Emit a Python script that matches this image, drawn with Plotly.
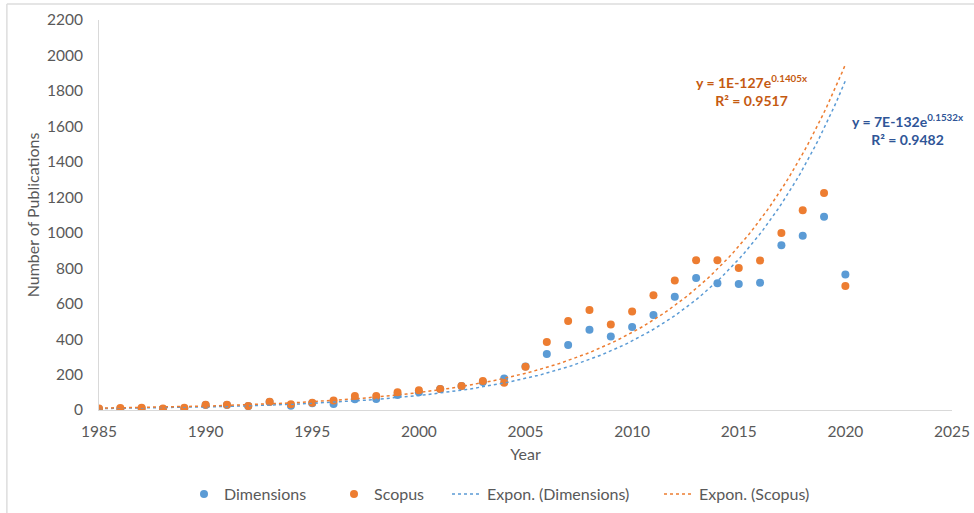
import numpy as np
import plotly.graph_objects as go

years = list(range(1985, 2021))
dimensions = [5, 7, 9, 5, 9, 28, 28, 22, 45, 24, 38, 34, 60, 62, 85, 100, 118, 135, 158, 178,
              245, 316, 367, 453, 414, 468, 536, 639, 745, 715, 711, 718, 929, 983, 1090, 765]
scopus = [9, 11, 12, 8, 12, 30, 30, 23, 47, 32, 41, 53, 79, 79, 100, 112, 118, 135, 163, 154,
          244, 384, 502, 564, 483, 556, 647, 731, 845, 845, 801, 843, 998, 1127, 1224, 700]

BLUE = "#5B9BD5"
ORANGE = "#ED7D31"
FONT = "Lato"
GREY = "#595959"

def expfit(x, y):
    # Excel-style exponential trendline: least squares on ln(y)
    x = np.array(x, float); y = np.array(y, float)
    b, ln_a = np.polyfit(x, np.log(y), 1)
    xs = np.linspace(x.min(), x.max(), 200)
    return xs, np.exp(ln_a + b * xs)

xd, yd = expfit(years, dimensions)
xs, ys = expfit(years, scopus)

fig = go.Figure()
fig.add_trace(go.Scatter(x=years, y=dimensions, mode="markers", name="Dimensions",
                         marker=dict(color=BLUE, size=8), legend="legend"))
fig.add_trace(go.Scatter(x=years, y=scopus, mode="markers", name="Scopus",
                         marker=dict(color=ORANGE, size=8), legend="legend2"))
fig.add_trace(go.Scatter(x=xd, y=yd, mode="lines", name="Expon. (Dimensions)",
                         line=dict(color=BLUE, width=1.5, dash="dot"), legend="legend3"))
fig.add_trace(go.Scatter(x=xs, y=ys, mode="lines", name="Expon. (Scopus)",
                         line=dict(color=ORANGE, width=1.5, dash="dot"), legend="legend4"))

fig.add_annotation(x=2015.6, y=1805, xref="x", yref="y", showarrow=False,
                   text="<b>y = 1E-127e<sup>0.1405x</sup></b><br><b>R² = 0.9517</b>",
                   font=dict(family=FONT, size=14, color="#C55A11"), align="center")
fig.add_annotation(x=1.0164, xanchor="right", y=1580, xref="paper", yref="y", showarrow=False,
                   text="<b>y = 7E-132e<sup>0.1532x</sup></b><br><b>R² = 0.9482</b>",
                   font=dict(family=FONT, size=14, color="#2F5597"), align="center")

def leg(xpx):
    return dict(orientation="h", x=(xpx - 99) / 853, xanchor="left", yref="container",
                y=0.037, yanchor="middle", font=dict(family=FONT, size=16, color=GREY),
                bgcolor="rgba(0,0,0,0)")

fig.update_layout(
    width=974, height=513,
    margin=dict(l=99, r=22, t=20, b=103),
    paper_bgcolor="white", plot_bgcolor="white",
    font=dict(family=FONT, size=15.5, color=GREY),
    showlegend=True,
    legend=leg(225 - 41), legend2=leg(375 - 41), legend3=leg(488 - 41), legend4=leg(700 - 41),
    xaxis=dict(range=[1985, 2025], tickvals=list(range(1985, 2026, 5)), automargin=False,
               showgrid=False, zeroline=False, showline=True, linecolor="#D9D9D9",
               linewidth=1, ticks="", ticklabelstandoff=7,
               tickfont=dict(size=15.5),
               title=dict(text="Year", standoff=10, font=dict(size=16))),
    yaxis=dict(range=[0, 2200], tickvals=list(range(0, 2201, 200)), automargin=False,
               showgrid=False, zeroline=False, showline=True, linecolor="#D9D9D9",
               linewidth=1, ticks="", ticklabelstandoff=12,
               tickfont=dict(size=15.5),
               title=dict(text="Number of Publications", standoff=3, font=dict(size=16))),
    shapes=[
        dict(type="line", xref="paper", yref="paper", x0=-0.108, x1=1.03, y0=1.041, y1=1.041,
             line=dict(color="#DDDDDD", width=1.5), layer="below"),
        dict(type="line", xref="paper", yref="paper", x0=-0.108, x1=-0.108, y0=1.041, y1=-0.27,
             line=dict(color="#DDDDDD", width=1.5), layer="below"),
    ],
)

fig.write_html("out.html")
